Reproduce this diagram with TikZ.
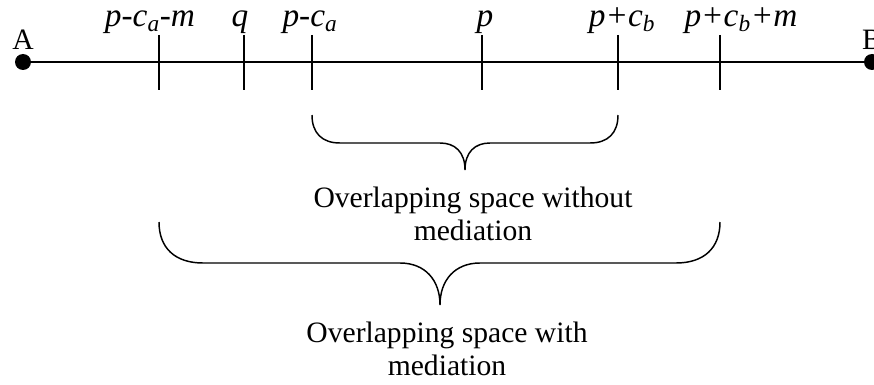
\documentclass[tikz,border=0pt]{standalone}
\usepackage{fontspec}
\setmainfont{Liberation Serif}
\begin{document}
\begin{tikzpicture}[x=0.75pt,y=-0.75pt,line width=1.5pt,every node/.style={font=\fontsize{22.2}{24.75}\selectfont,inner sep=0pt},
  lbl/.style={anchor=base,font=\fontsize{25}{28}\selectfont\itshape},
  brace/.style={line width=1.1pt}]
\useasboundingbox (0,0) rectangle (874,385);
\coordinate (A) at (23,62);
\coordinate (B) at (872,62);
\coordinate (t1) at (159,62);
\coordinate (t2) at (244,62);
\coordinate (t3) at (312,62);
\coordinate (t4) at (482,62);
\coordinate (t5) at (618,62);
\coordinate (t6) at (720,62);
\draw (A) -- (B);
\fill (A) circle[radius=8];
\fill (B) circle[radius=8];
\foreach \t in {t1,t2,t3,t4,t5,t6}
  \draw (\t) ++(0,-27) -- ++(0,55);
\node[anchor=base] (LA) at (23,50) {A};
\node[anchor=base] (LB) at (872,50) {B};
\node[lbl] (L1) at (150,27) {p-c\textsubscript{a}-m};
\node[lbl] (L2) at (240,27) {q};
\node[lbl] (L3) at (310,27) {p-c\textsubscript{a}};
\node[lbl] (L4) at (485,27) {p};
\node[lbl] (L5) at (622,27) {p+c\textsubscript{b}};
\node[lbl] (L6) at (741,27) {p+c\textsubscript{b}+m};
% braces
\draw[brace] (312,115) .. controls (312,133) and (322,143) .. (340,143) -- (440,143)
  .. controls (455,143) and (465,152) .. (465,170)
  .. controls (465,152) and (475,143) .. (490,143) -- (590,143)
  .. controls (608,143) and (618,133) .. (618,115);
\draw[brace] (159,222) .. controls (159,248) and (175,263) .. (203,263) -- (400,263)
  .. controls (425,263) and (440,280) .. (440,305)
  .. controls (440,280) and (455,263) .. (480,263) -- (676,263)
  .. controls (704,263) and (720,248) .. (720,222);
\node[anchor=base,align=center] (without) at (473,240) {Overlapping space without\\mediation};
\node[anchor=base,align=center] (with) at (447,375) {Overlapping space with\\mediation};
\end{tikzpicture}
\end{document}
